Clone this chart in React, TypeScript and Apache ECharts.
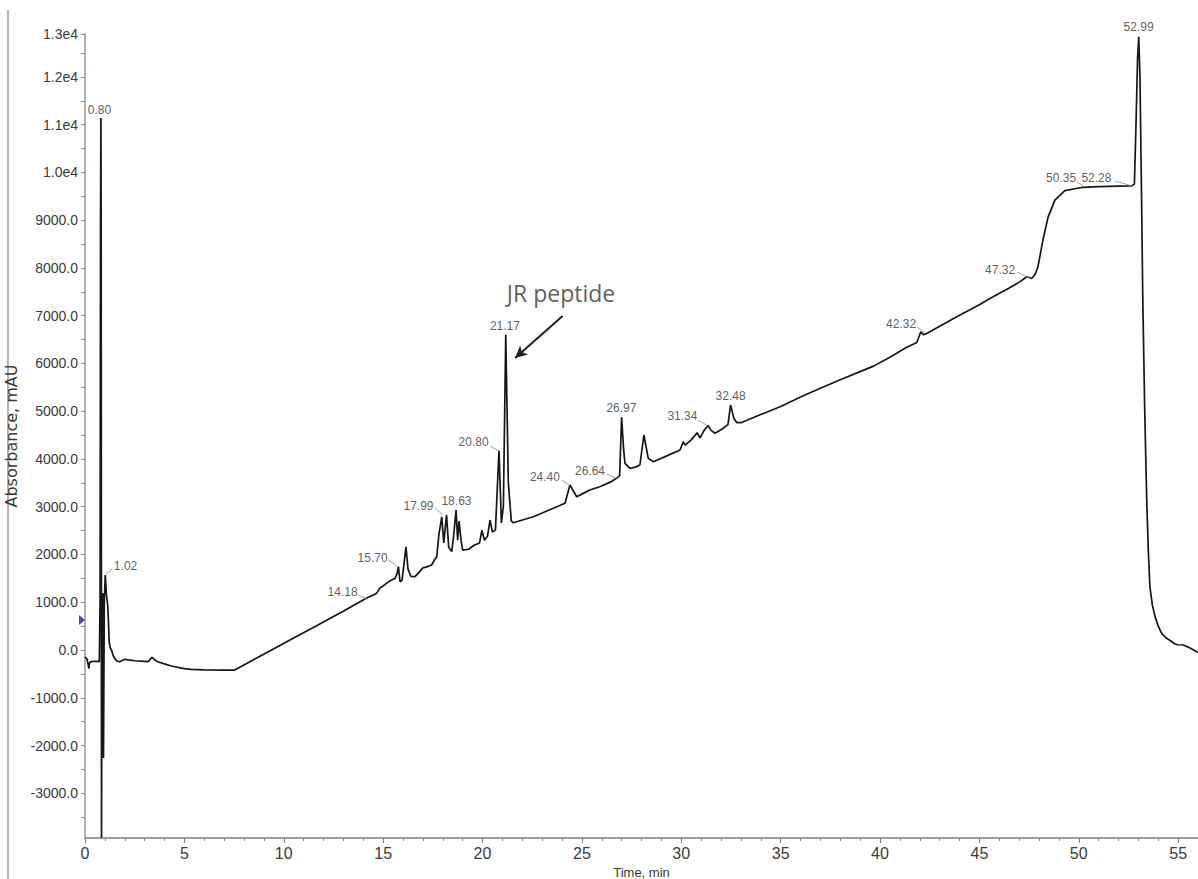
import React, { useEffect, useRef } from "react";
import * as echarts from "echarts";

// Retention time (min)
const times = [
  0.0, 0.1, 0.16, 0.19, 0.23, 0.3, 0.5, 0.72, 0.76, 0.78, 0.8, 0.815, 0.83, 0.86, 0.9, 0.93, 0.97, 1.02, 1.08, 1.15,
  1.22, 1.28, 1.35, 1.42, 1.49, 1.6, 1.74, 2.0, 2.5, 3.0, 3.17, 3.37, 3.55, 3.67, 4.0, 4.34, 5.0, 5.35, 6.0, 7.0,
  7.53, 8.5, 9.5, 10.5, 11.72, 12.5, 13.0, 13.5, 14.18, 14.5, 14.68, 14.84, 15.0, 15.18, 15.4, 15.6, 15.7, 15.77, 15.85, 15.95,
  16.05, 16.15, 16.25, 16.4, 16.6, 16.8, 17.0, 17.2, 17.44, 17.6, 17.7, 17.8, 17.95, 18.05, 18.19, 18.3, 18.45, 18.55, 18.67, 18.75,
  18.82, 18.92, 19.0, 19.3, 19.6, 19.85, 19.97, 20.1, 20.25, 20.38, 20.5, 20.65, 20.83, 20.95, 21.05, 21.17, 21.3, 21.45, 21.55, 22.56,
  23.56, 24.15, 24.4, 24.74, 25.07, 25.4, 25.9, 26.4, 26.75, 26.9, 27.0, 27.1, 27.17, 27.42, 27.7, 27.92, 28.12, 28.34, 28.6, 29.3,
  29.94, 30.1, 30.2, 30.5, 30.8, 30.95, 31.15, 31.35, 31.5, 31.7, 32.1, 32.35, 32.48, 32.65, 32.8, 33.0, 34.0, 35.0, 36.0, 37.0,
  38.0, 39.0, 39.7, 40.5, 41.3, 41.85, 42.05, 42.2, 42.4, 43.0, 44.0, 45.0, 45.53, 46.5, 47.0, 47.38, 47.5, 47.63, 47.8, 47.95,
  48.2, 48.46, 48.8, 49.3, 50.2, 51.0, 52.0, 52.66, 52.8, 52.88, 52.96, 53.02, 53.08, 53.16, 53.22, 53.32, 53.42, 53.5, 53.58, 53.7,
  53.84, 54.0, 54.17, 54.42, 54.6, 54.84, 55.0, 55.26, 55.6, 55.93, 56.0,
];

// Absorbance (mAU)
const absorbance = [
  -140, -190, -300, -390, -270, -245, -235, -245, 1100, 8800, 11140, 8800, -3930, 900, 1190, -2260, 1000, 1570, 1150, 900,
  150, 40, -20, -120, -170, -230, -245, -195, -225, -240, -245, -153, -220, -245, -290, -335, -390, -405, -415, -420,
  -420, -200, 25, 250, 523, 700, 810, 930, 1090, 1150, 1190, 1300, 1340, 1400, 1460, 1500, 1600, 1745, 1430, 1460,
  1800, 2160, 1700, 1540, 1535, 1620, 1720, 1740, 1780, 1900, 1950, 2400, 2790, 2240, 2830, 2150, 2060, 2400, 2930, 2300,
  2700, 2300, 2090, 2110, 2200, 2240, 2510, 2300, 2380, 2720, 2470, 2510, 4170, 2660, 3000, 6600, 3500, 2700, 2665, 2790,
  2967, 3072, 3455, 3210, 3280, 3350, 3420, 3510, 3595, 3650, 4872, 4200, 3910, 3805, 3830, 3874, 4502, 4014, 3944, 4070,
  4188, 4360, 4290, 4400, 4550, 4440, 4600, 4700, 4600, 4540, 4640, 4720, 5130, 4850, 4760, 4760, 4930, 5100, 5300, 5480,
  5660, 5830, 5950, 6130, 6330, 6440, 6660, 6600, 6640, 6780, 7010, 7230, 7360, 7580, 7700, 7817, 7800, 7780, 7860, 8030,
  8590, 9070, 9420, 9620, 9690, 9705, 9715, 9720, 9760, 11000, 12400, 12840, 12000, 9500, 7400, 5000, 3140, 2094, 1325, 950,
  700, 500, 350, 245, 200, 125, 110, 105, 40, -35, -50,
];

// Peak labels (retention times)
const peakNames = [
  "0.80", "1.02", "14.18", "15.70", "17.99", "18.63", "20.80", "21.17", "24.40",
  "26.64", "26.97", "31.34", "32.48", "42.32", "47.32", "50.35", "52.28", "52.99",
];

// Annotation layout (label centres and leader lines, in data units)
const labelAnchors = [
  [0.73, 11309], [2.04, 1759], [12.96, 1215], [14.47, 1927], [16.78, 3016], [18.69, 3120],
  [19.55, 4356], [21.13, 6785], [23.14, 3623], [25.41, 3749], [26.99, 5068], [30.06, 4900],
  [32.48, 5319], [41.06, 6827], [46.04, 7958], [49.11, 9885], [50.89, 9885], [53.01, 13047],
];
const leaderLines = [
  [[1.36, 1696], [1.06, 1592]],
  [[13.74, 1152], [14.19, 1068]],
  [[15.25, 1885], [15.7, 1759]],
  [[17.61, 2974], [18.01, 2827]],
  [[20.38, 4272], [20.83, 4167]],
  [[24.0, 3560], [24.4, 3434]],
  [[26.26, 3686], [26.82, 3581]],
  [[30.84, 4817], [31.35, 4691]],
  [[41.86, 6764], [42.26, 6639]],
  [[46.89, 7916], [47.6, 7770]],
  [[49.91, 9801], [50.31, 9696]],
  [[51.82, 9822], [52.68, 9717]],
];
const annotationText = "JR peptide";
const annotationAnchor = [23.95, 7480];
const annotationArrow = [[24.03, 6994], [21.64, 6115]];
const injectionMarker = [-0.15, 628];

// Axis extents and tick values
const xMin = 0;
const xMax = 56;
const xInterval = 5;
const yMin = -3937;
const yMax = 12900;
const yLabelValues = [-3000, -2000, -1000, 0, 1000, 2000, 3000, 4000, 5000, 6000, 7000, 8000, 9000, 10000, 11000, 12000, 12900];
const yTickValues = [
  -3500, -3000, -2500, -2000, -1500, -1000, -500, 0, 500, 1000, 1500, 2000, 2500, 3000, 3500, 4000, 4500, 5000,
  5500, 6000, 6500, 7000, 7500, 8000, 8500, 9000, 9500, 10000, 10500, 11000, 11500, 12000, 12500, 12900,
];

const fmtY = (v: number) => (v >= 9999 ? (v / 10000).toFixed(1) + "e4" : v.toFixed(1));

const SANS = "'Liberation Sans', Arial, sans-serif";

export default function App() {
  const ref = useRef<HTMLDivElement>(null);
  useEffect(() => {
    const chart = echarts.init(ref.current!, null, { renderer: "svg" });
    const curve = times.map((t, i) => [t, absorbance[i]]);
    chart.setOption({
      animation: false,
      backgroundColor: "#ffffff",
      grid: { left: 85, right: 0, top: 34, bottom: 41, containLabel: false, outerBoundsMode: "none" },
      graphic: [
        {
          type: "line",
          shape: { x1: 8, y1: 10, x2: 8, y2: 879 },
          style: { stroke: "#9c9c9c", lineWidth: 1.5 },
          silent: true,
        },
      ],
      xAxis: {
        type: "value",
        min: xMin,
        max: xMax,
        interval: xInterval,
        axisLine: { show: true, onZero: false, lineStyle: { color: "#7c7c7c", width: 1.5 } },
        axisTick: { show: true, length: 5, lineStyle: { color: "#7c7c7c" } },
        minorTick: { show: true, splitNumber: 5, length: 3, lineStyle: { color: "#8c8c8c" } },
        splitLine: { show: false },
        minorSplitLine: { show: false },
        axisLabel: {
          color: "#3a3a3a",
          fontSize: 16,
          fontFamily: "'Liberation Sans Narrow', 'Liberation Sans', Arial, sans-serif",
          margin: 7,
          showMaxLabel: false,
        },
        name: "Time, min",
        nameLocation: "middle",
        nameGap: 22,
        nameTextStyle: { color: "#3a3a3a", fontSize: 13, fontFamily: SANS },
      },
      yAxis: {
        type: "value",
        min: yMin,
        max: yMax,
        axisLine: { show: true, lineStyle: { color: "#a8a8a8", width: 1.8 } },
        axisTick: { show: true, length: 4, customValues: yTickValues, lineStyle: { color: "#8c8c8c" } },
        splitLine: { show: false },
        axisLabel: {
          customValues: yLabelValues,
          formatter: (v: number) => fmtY(v),
          color: "#3a3a3a",
          fontSize: 14,
          fontFamily: SANS,
          margin: 7,
        },
        name: "Absorbance, mAU",
        nameLocation: "middle",
        nameGap: 57,
        nameRotate: 90,
        nameTextStyle: { color: "#3a3a3a", fontSize: 16, fontFamily: "'DejaVu Sans', sans-serif" },
      },
      series: [
        {
          type: "line",
          data: curve,
          showSymbol: false,
          symbol: "none",
          clip: true,
          silent: true,
          lineStyle: { color: "#161616", width: 1.7 },
        },
        {
          type: "scatter",
          symbolSize: 0,
          clip: false,
          silent: true,
          data: peakNames.map((n, i) => ({ name: n, value: labelAnchors[i] })),
          label: {
            show: true,
            position: "inside",
            formatter: "{b}",
            color: "#333333",
            fontSize: 12,
            fontFamily: SANS,
          },
          markLine: {
            silent: true,
            symbol: ["none", "none"],
            label: { show: false },
            lineStyle: { color: "#8a8a8a", width: 0.8, type: "solid" },
            data: leaderLines.map(([a, b]) => [{ coord: a }, { coord: b }]),
          },
        },
        {
          type: "scatter",
          symbolSize: 0,
          clip: false,
          silent: true,
          data: [{ name: annotationText, value: annotationAnchor }],
          label: {
            show: true,
            position: "inside",
            formatter: "{b}",
            color: "#333333",
            fontSize: 23,
            fontFamily: "'Open Sans', 'Noto Sans', sans-serif",
          },
          markLine: {
            silent: true,
            symbol: ["none", "arrow"],
            symbolSize: [9, 12],
            label: { show: false },
            lineStyle: { color: "#222222", width: 2, type: "solid" },
            data: [[{ coord: annotationArrow[0] }, { coord: annotationArrow[1] }]],
          },
        },
        {
          type: "scatter",
          symbol: "triangle",
          symbolRotate: -90,
          symbolSize: [10, 6],
          clip: false,
          silent: true,
          itemStyle: { color: "#1f1f9e" },
          data: [injectionMarker],
        },
      ],
    });
    return () => chart.dispose();
  }, []);
  return (
    <div
      ref={ref}
      style={{ position: "absolute", left: 0, top: 0, width: 1198, height: 879, background: "#ffffff" }}
    />
  );
}
